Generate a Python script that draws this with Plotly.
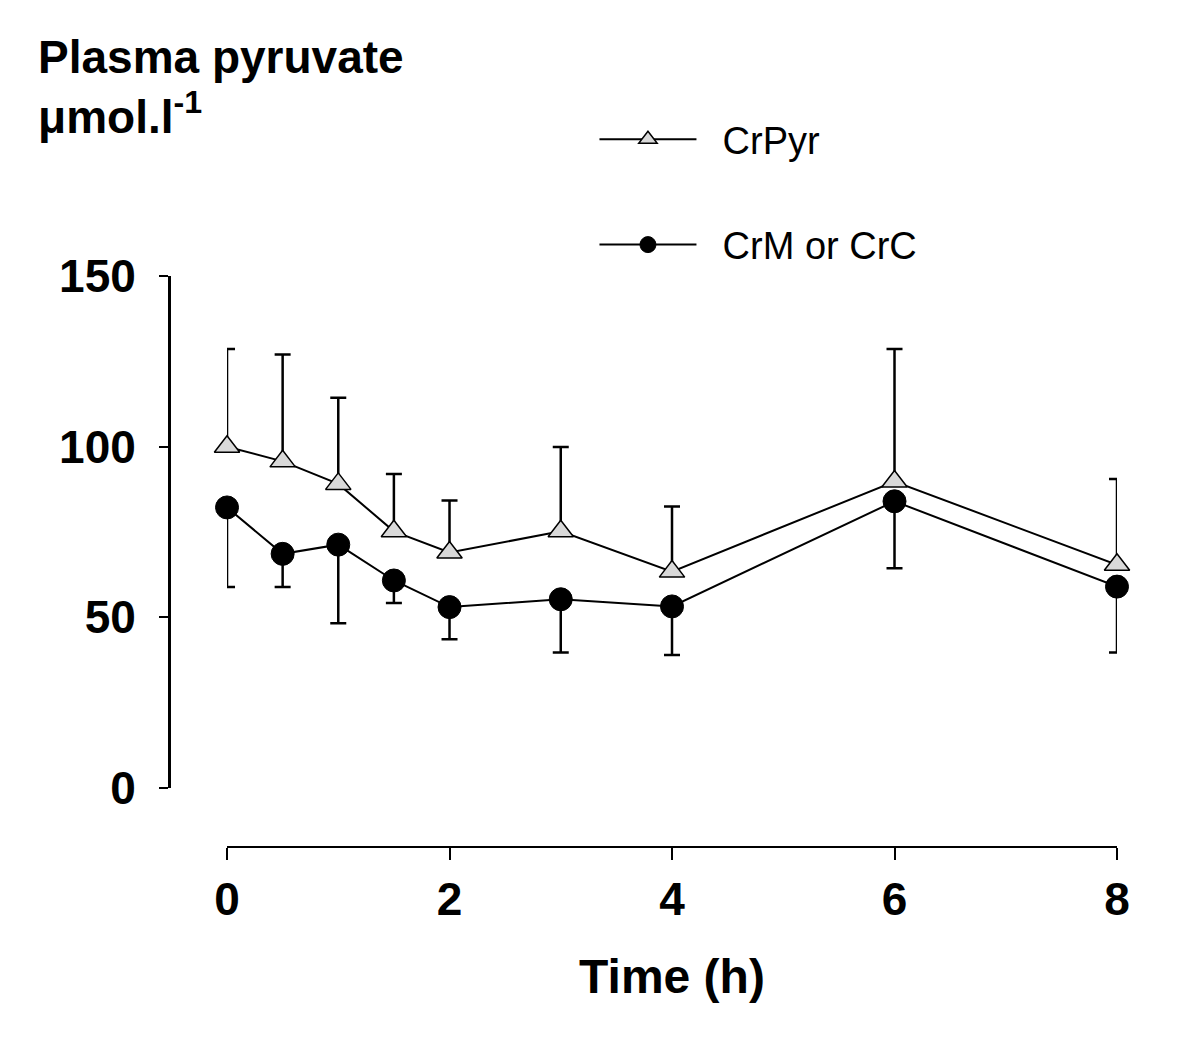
import plotly.graph_objects as go

# ---- data ----
time_h = [0, 0.5, 1, 1.5, 2, 3, 4, 6, 8]

crpyr_mean = [100, 95.7, 89.1, 75.2, 69.0, 75.2, 63.4, 89.8, 65.4]
crpyr_upper = [128.6, 127.0, 114.3, 92.0, 84.2, 99.9, 82.5, 128.6, 90.5]

crm_mean = [82.2, 68.6, 71.3, 60.8, 53.0, 55.3, 53.2, 84.0, 59.0]
crm_lower = [58.9, 58.9, 48.3, 54.2, 43.6, 39.7, 39.0, 64.4, 39.7]

x_ticks = [0, 2, 4, 6, 8]
y_ticks = [0, 50, 100, 150]

series_names = ["CrPyr", "CrM or CrC"]
title_lines = ["Plasma pyruvate", "μmol.l<sup>-1</sup>"]
x_title = "Time (h)"

crpyr_err_plus = [u - m for u, m in zip(crpyr_upper, crpyr_mean)]
crm_err_minus = [m - l for m, l in zip(crm_mean, crm_lower)]
zeros = [0] * len(time_h)

FONT = "Liberation Sans, Arial, sans-serif"
GAP = "\u00a0\u00a0"

fig = go.Figure()

fig.add_trace(go.Scatter(
    x=time_h, y=crpyr_mean, name=GAP + series_names[0], mode="lines+markers",
    legendgroup="a",
    line=dict(color="black", width=2),
    marker=dict(symbol="triangle-up", size=22, color="#d9d9d9",
                line=dict(color="black", width=1.5)),
    error_y=dict(type="data", symmetric=False, array=crpyr_err_plus,
                 arrayminus=zeros, color="black", thickness=2.5, width=8),
    cliponaxis=False,
))

fig.add_trace(go.Scatter(
    x=time_h, y=crm_mean, name=GAP + series_names[1], mode="lines+markers",
    legendgroup="b",
    line=dict(color="black", width=2),
    marker=dict(symbol="circle", size=23, color="black",
                line=dict(color="black", width=1)),
    error_y=dict(type="data", symmetric=False, array=zeros,
                 arrayminus=crm_err_minus, color="black", thickness=2.5, width=8),
    cliponaxis=False,
))

fig.update_layout(
    width=1200, height=1055,
    margin=dict(l=161, r=91, t=268, b=216, pad=0),
    paper_bgcolor="white", plot_bgcolor="white",
    font=dict(family=FONT, color="black"),
    showlegend=True,
    legend=dict(
        x=0.4488, y=1.2942, xanchor="left", yanchor="top",
        font=dict(family=FONT, size=38, color="black"),
        traceorder="grouped", tracegroupgap=53,
        itemwidth=97, bgcolor="rgba(0,0,0,0)",
    ),
    xaxis=dict(
        domain=[0.0612, 1], range=[0, 8], anchor="free", position=0,
        showline=True, linecolor="black", linewidth=2,
        ticks="outside", ticklen=12, tickwidth=2, tickcolor="black",
        tickvals=x_ticks, ticktext=[str(v) for v in x_ticks],
        tickfont=dict(family=FONT, size=46, weight="bold"),
        showgrid=False, zeroline=False,
        title=dict(text=x_title, font=dict(family=FONT, size=48, weight="bold"),
                   standoff=34),
    ),
    yaxis=dict(
        domain=[0.1033, 1], range=[0, 150], anchor="free", position=0,
        showline=True, linecolor="black", linewidth=3,
        ticks="outside", ticklen=9, tickwidth=2, tickcolor="black",
        tickvals=y_ticks, ticktext=[str(v) for v in y_ticks],
        tickfont=dict(family=FONT, size=46, weight="bold"),
        ticklabelstandoff=14,
        showgrid=False, zeroline=False,
    ),
    annotations=[dict(
        text="<br>".join(title_lines),
        xref="paper", yref="paper", x=-0.140, y=1.4326,
        xanchor="left", yanchor="top", align="left", showarrow=False,
        font=dict(family=FONT, size=46, weight="bold", color="black"),
    )],
)

fig.write_html("out.html")
